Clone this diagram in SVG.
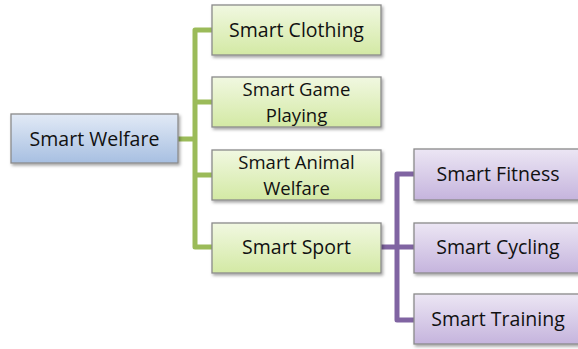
<svg xmlns="http://www.w3.org/2000/svg" width="578" height="349" viewBox="0 0 578 349">
<defs>
<linearGradient id="gBlue" x1="0" y1="0" x2="0" y2="1"><stop offset="0" stop-color="#e2eaf6"/><stop offset="1" stop-color="#a7bfe1"/></linearGradient>
<linearGradient id="gGreen" x1="0" y1="0" x2="0" y2="1"><stop offset="0" stop-color="#f1f8e1"/><stop offset="1" stop-color="#d3e9a4"/></linearGradient>
<linearGradient id="gPurple" x1="0" y1="0" x2="0" y2="1"><stop offset="0" stop-color="#ece6f4"/><stop offset="1" stop-color="#c5b4dd"/></linearGradient>
<filter id="sh" x="-10%" y="-20%" width="130%" height="160%"><feDropShadow dx="1.5" dy="2" stdDeviation="1.5" flood-color="#000" flood-opacity="0.35"/></filter>
</defs>
<style>
.box{stroke:#8a8a8a;stroke-width:1.3;filter:url(#sh)}
.b{fill:url(#gBlue)} .g{fill:url(#gGreen)} .p{fill:url(#gPurple)}
text{font-family:"Open Sans","Liberation Sans",sans-serif;font-size:19.5px;fill:#111;text-anchor:middle}
text.two{font-size:18.5px}
.cg{fill:none;stroke:#9bbb59;stroke-width:5;stroke-linejoin:round}
.cp{fill:none;stroke:#8064a2;stroke-width:5;stroke-linejoin:round}
</style>
<rect width="578" height="349" fill="#fff"/>
<g id="connectors">
<path class="cg" d="M178 139 H195 M212 30 H195 V247 H212 M195 102 H212 M195 175 H212"/>
<path class="cp" d="M381 247 H414 M414 174 H397 V320 H414"/>
</g>
<g id="smart-welfare"><rect class="box b" x="11" y="114" width="167" height="49"/><text x="94.5" y="146">Smart Welfare</text></g>
<g id="smart-clothing"><rect class="box g" x="212" y="5" width="169" height="50"/><text x="296.5" y="37">Smart Clothing</text></g>
<g id="smart-game-playing"><rect class="box g" x="212" y="77" width="169" height="50"/><text class="two" x="296.5" y="96">Smart Game</text><text class="two" x="296.5" y="122">Playing</text></g>
<g id="smart-animal-welfare"><rect class="box g" x="212" y="150" width="169" height="50"/><text class="two" x="296.5" y="169">Smart Animal</text><text class="two" x="296.5" y="195">Welfare</text></g>
<g id="smart-sport"><rect class="box g" x="212" y="223" width="169" height="50"/><text x="296.5" y="254">Smart Sport</text></g>
<g id="smart-fitness"><rect class="box p" x="414" y="149" width="169" height="51"/><text x="498" y="181">Smart Fitness</text></g>
<g id="smart-cycling"><rect class="box p" x="414" y="223" width="169" height="50"/><text x="498" y="254">Smart Cycling</text></g>
<g id="smart-training"><rect class="box p" x="414" y="294" width="169" height="50"/><text x="498" y="326">Smart Training</text></g>
</svg>
